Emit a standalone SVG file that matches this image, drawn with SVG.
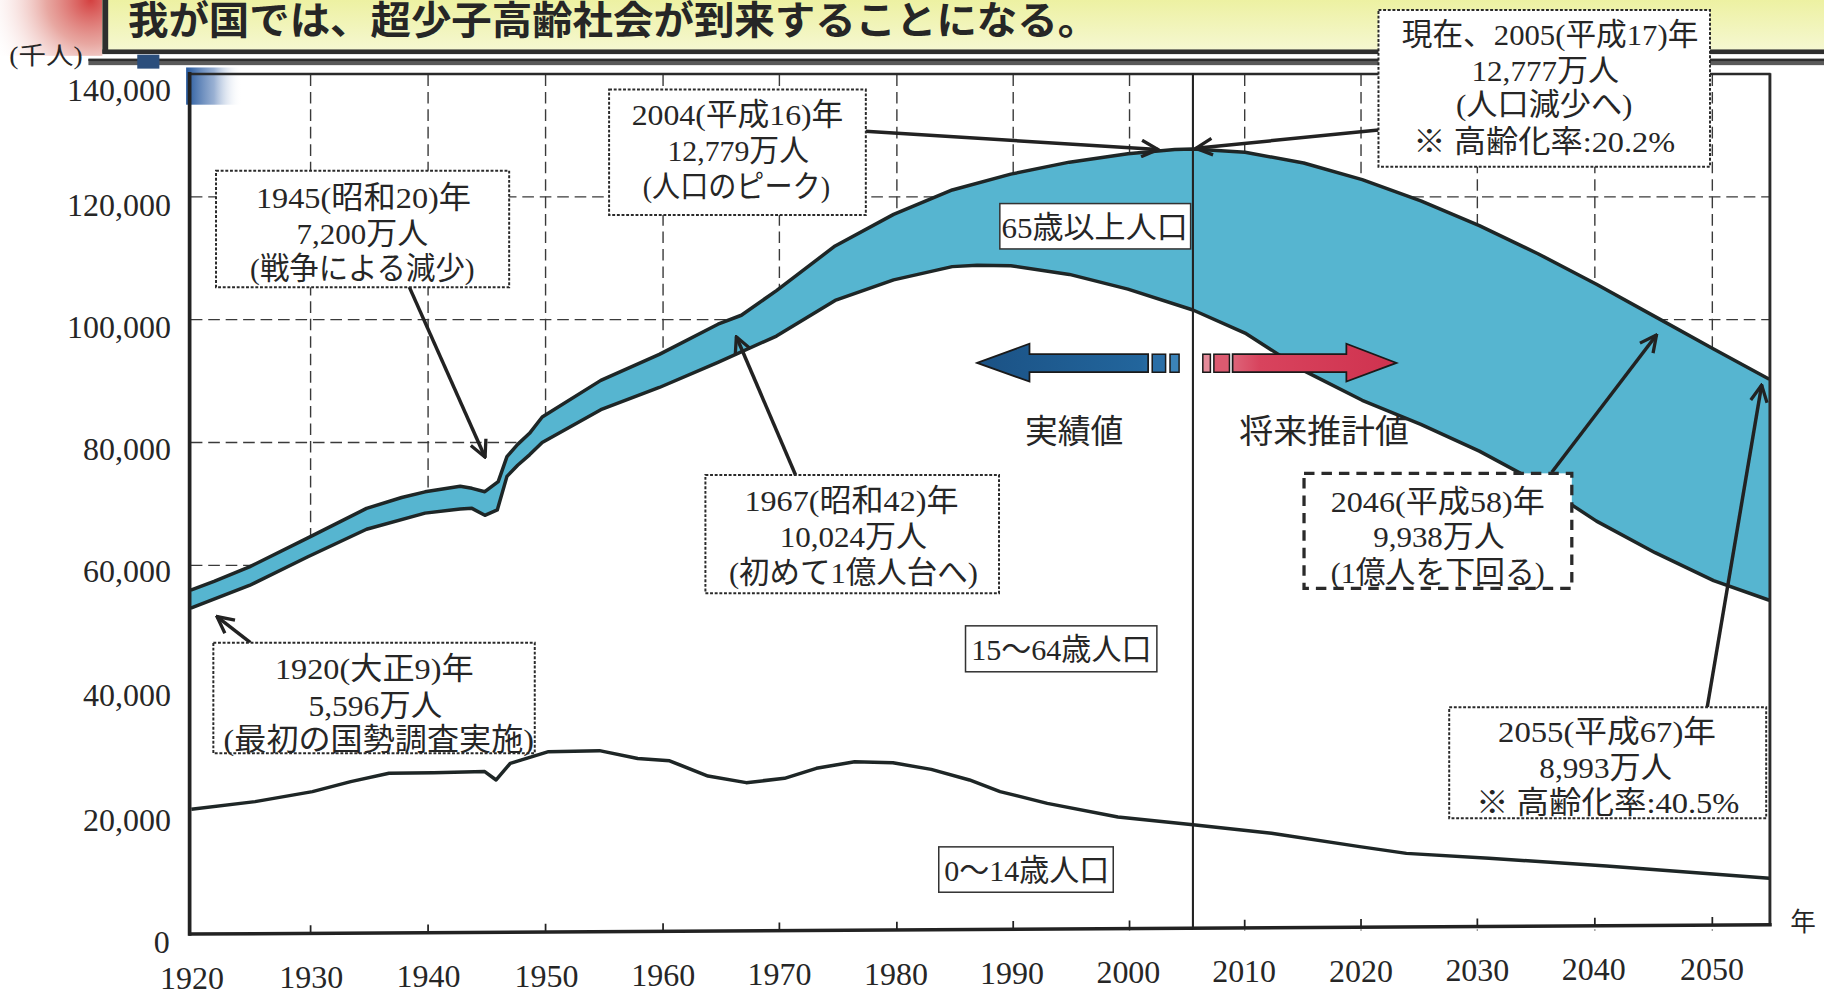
<svg xmlns="http://www.w3.org/2000/svg" width="1824" height="994" viewBox="0 0 1824 994">
<defs>
<linearGradient id="yel" x1="0" y1="0" x2="0" y2="1"><stop offset="0" stop-color="#edf1a2"/><stop offset="1" stop-color="#f6f8d4"/></linearGradient>
<radialGradient id="redblob" cx="78" cy="0" r="95" gradientUnits="userSpaceOnUse"><stop offset="0" stop-color="#d44040"/><stop offset="0.4" stop-color="#e08a82" stop-opacity="0.75"/><stop offset="1" stop-color="#ffffff" stop-opacity="0"/></radialGradient>
<linearGradient id="blueblob" x1="0" y1="0" x2="1" y2="0"><stop offset="0" stop-color="#24579c"/><stop offset="0.5" stop-color="#6e8fc0" stop-opacity="0.7"/><stop offset="1" stop-color="#ffffff" stop-opacity="0"/></linearGradient>
<linearGradient id="redArr" gradientUnits="userSpaceOnUse" x1="1033" y1="0" x2="1200" y2="0"><stop offset="0" stop-color="#e48a99"/><stop offset="0.3" stop-color="#d8435d"/><stop offset="1" stop-color="#cf324f"/></linearGradient>
<linearGradient id="blueArr" gradientUnits="userSpaceOnUse" x1="840" y1="0" x2="1014" y2="0"><stop offset="0" stop-color="#1b5285"/><stop offset="0.8" stop-color="#22659c"/><stop offset="1" stop-color="#3b83b9"/></linearGradient>
<marker id="ah" viewBox="0 0 12 12" refX="11" refY="6" markerWidth="17" markerHeight="17" markerUnits="userSpaceOnUse" orient="auto"><path d="M1,1 L11,6 L1,11" fill="none" stroke="#222" stroke-width="2"/></marker>
<style>
.grid{stroke:#3a3a3a;stroke-width:1.2;stroke-dasharray:10 5;fill:none}
.box{fill:#fff;stroke:#2a2a2a;stroke-width:1.7;stroke-dasharray:2.5 1.5}
.boxb{fill:#fff;stroke:#2a2a2a;stroke-width:2.8;stroke-dasharray:9 6}
.lbl{fill:#fff;stroke:#333;stroke-width:1.3}
.t{font-family:"Liberation Serif","Noto Sans CJK JP",serif;font-size:26px;fill:#262626;text-anchor:middle}
.ax{font-family:"Liberation Serif",serif;font-size:27.5px;fill:#262626}
.conn{stroke:#222;stroke-width:3;fill:none;marker-end:url(#ah)}
.curve{fill:none;stroke:#1e2626;stroke-width:3;stroke-linejoin:round}
.tick{stroke:#222;stroke-width:1.5}
</style>
</defs>
<rect width="1824" height="994" fill="#ffffff"/>
<g transform="scale(1.16327)">
<g id="header">
<rect x="0" y="0" width="88" height="48" fill="url(#redblob)"/>
<rect x="88" y="0" width="1490" height="46" fill="url(#yel)"/>
<rect x="88" y="42.5" width="1490" height="4" fill="#2e2e2e"/>
<rect x="88" y="0" width="5" height="46" fill="#2e2e2e"/>
<rect x="76" y="50.5" width="1500" height="5.5" fill="#5a5a5a"/>
<rect x="76" y="50.5" width="1500" height="2" fill="#2e2e2e"/>
<rect x="118" y="47" width="19" height="12" fill="#2b4e7c"/>
<rect x="160" y="58" width="48" height="32" fill="url(#blueblob)"/>
<text x="110" y="29.5" font-family="'Noto Sans CJK JP',sans-serif" font-size="33" font-weight="bold" fill="#262626" textLength="834" lengthAdjust="spacingAndGlyphs">我が国では、超少子高齢社会が到来することになる。</text>
</g>
<g id="grid">
<path class="grid" d="M267,64V800 M368,64V800 M469,64V800 M570,64V800 M670,64V800 M771,64V800 M871,64V800 M971,64V800 M1070,64V800 M1170,64V800 M1270,64V800 M1371,64V800 M1472,64V800"/>
<path class="grid" d="M164,169.2H1521 M164,274.8H1521 M164,380.4H1521 M164,486H1521 M164,591.6H1521 M164,697.2H1521"/>
</g>
<g id="areas">
<polygon id="band65" fill="#56b5d0" points="164,507.2 184,499.7 214.4,487.3 264.7,462.4 315.1,437 345.3,427.7 365.4,422.8 395.6,418 405.7,419.8 416.8,422.7 428.3,414 435.8,392.6 445,382 455.2,372.5 466.1,358.5 516.5,327 566.8,304.6 617.2,278.7 637.3,271 667.5,249.8 717.9,211.4 768.2,184.3 818.6,163.3 868.9,149.7 919.3,139.4 969.6,132.2 1009.9,128.5 1025.5,128 1070.3,130.9 1120.7,140.1 1171,154.4 1221.4,172.7 1271.7,194 1322.1,218.1 1372.4,244.4 1422.8,272.2 1473.1,300.1 1521,326 1521,516 1473.1,499.1 1422.8,475.1 1372.4,448 1322.1,414.9 1271.7,387.8 1221.4,364.8 1171,344.1 1120.7,318.6 1070.3,286.3 1025.5,266.5 969.6,248.5 919.3,235.9 868.9,228.4 840,228 818.6,229.2 768.2,240.6 717.9,258.3 667.5,288.9 617.2,311.6 566.8,333.1 516.5,352.2 466.1,380.4 455.2,391 445,400 435.8,409.5 427.5,438.4 416.8,443 405.7,437 395.6,437.5 365.4,441.1 315.1,455 264.7,478.6 214.4,503.3 164,522.8"/>
<polygon id="below" fill="#ffffff" points="164,522.8 214.4,503.3 264.7,478.6 315.1,455 365.4,441.1 395.6,437.5 405.7,437 416.8,443 427.5,438.4 435.8,409.5 445,400 455.2,391 466.1,380.4 516.5,352.2 566.8,333.1 617.2,311.6 667.5,288.9 717.9,258.3 768.2,240.6 818.6,229.2 840,228 868.9,228.4 919.3,235.9 969.6,248.5 1025.5,266.5 1070.3,286.3 1120.7,318.6 1171,344.1 1221.4,364.8 1271.7,387.8 1322.1,414.9 1372.4,448 1422.8,475.1 1473.1,499.1 1521,516 1521,796 164,804"/>
</g>
<g id="curves">
<polyline class="curve" points="164,507.2 184,499.7 214.4,487.3 264.7,462.4 315.1,437 345.3,427.7 365.4,422.8 395.6,418 405.7,419.8 416.8,422.7 428.3,414 435.8,392.6 445,382 455.2,372.5 466.1,358.5 516.5,327 566.8,304.6 617.2,278.7 637.3,271 667.5,249.8 717.9,211.4 768.2,184.3 818.6,163.3 868.9,149.7 919.3,139.4 969.6,132.2 1009.9,128.5 1025.5,128 1070.3,130.9 1120.7,140.1 1171,154.4 1221.4,172.7 1271.7,194 1322.1,218.1 1372.4,244.4 1422.8,272.2 1473.1,300.1 1521,326"/>
<polyline class="curve" points="164,522.8 214.4,503.3 264.7,478.6 315.1,455 365.4,441.1 395.6,437.5 405.7,437 416.8,443 427.5,438.4 435.8,409.5 445,400 455.2,391 466.1,380.4 516.5,352.2 566.8,333.1 617.2,311.6 667.5,288.9 717.9,258.3 768.2,240.6 818.6,229.2 840,228 868.9,228.4 919.3,235.9 969.6,248.5 1025.5,266.5 1070.3,286.3 1120.7,318.6 1171,344.1 1221.4,364.8 1271.7,387.8 1322.1,414.9 1372.4,448 1422.8,475.1 1473.1,499.1 1521,516"/>
<polyline class="curve" stroke-width="3.4" points="164.5,695.7 219.3,689.1 268.6,680.5 301.5,671.9 334.4,664.7 372.8,664.2 416.7,663.3 426.5,670.5 438.6,656.2 471.5,646.2 515.3,645.3 548.2,652 575.6,654 608.6,667.1 641.5,672.8 674.4,669.1 701.8,660.5 734.7,654.8 767.6,655.7 800.5,661.4 833.4,670.5 859.7,680.5 900.3,690.6 961,702.3 1025.6,708.9 1093,716.3 1168.8,727.8 1209,733.6 1280,737.8 1381,744.5 1521,755"/>
</g>
<g id="axes">
<line x1="163" y1="63.6" x2="1522" y2="63.6" stroke="#2a2a2a" stroke-width="2"/>
<line x1="163" y1="62" x2="163" y2="804.5" stroke="#222" stroke-width="3.2"/>
<line x1="1521.5" y1="63" x2="1521.5" y2="796" stroke="#2a2a2a" stroke-width="2.5"/>
<line x1="162" y1="803" x2="1523" y2="795" stroke="#222" stroke-width="3"/>
<line x1="1025.5" y1="63" x2="1025.5" y2="798" stroke="#222" stroke-width="1.8"/>
<path class="tick" d="M267,802.4v-7 M368,801.8v-7 M469,801.2v-7 M570,800.6v-7 M670,800v-7 M771,799.4v-7 M871,798.8v-7 M971,798.2v-7 M1070,797.7v-7 M1170,797.1v-7 M1270,796.5v-7 M1371,795.9v-7 M1472,795.3v-7"/>
<text x="8" y="55" font-family="'Liberation Serif','Noto Sans CJK JP',serif" font-size="21" fill="#262626" textLength="63" lengthAdjust="spacingAndGlyphs">(千人)</text>
<g class="ax" text-anchor="end">
<text x="147" y="86.5">140,000</text>
<text x="147" y="185.5">120,000</text>
<text x="147" y="290.5">100,000</text>
<text x="147" y="395.5">80,000</text>
<text x="147" y="500.5">60,000</text>
<text x="147" y="606.5">40,000</text>
<text x="147" y="714.5">20,000</text>
<text x="146" y="819">0</text>
</g>
<g class="ax" text-anchor="middle">
<text x="165" y="850">1920</text>
<text x="267.5" y="849.4">1930</text>
<text x="368.4" y="848.8">1940</text>
<text x="469.8" y="848.2">1950</text>
<text x="570.2" y="847.6">1960</text>
<text x="670" y="847">1970</text>
<text x="770.3" y="846.4">1980</text>
<text x="870" y="845.8">1990</text>
<text x="970" y="845.2">2000</text>
<text x="1069.5" y="844.6">2010</text>
<text x="1170" y="844">2020</text>
<text x="1270" y="843.4">2030</text>
<text x="1370" y="842.8">2040</text>
<text x="1471.7" y="842.2">2050</text>
</g>
<text x="1550" y="800" font-family="'Noto Sans CJK JP',sans-serif" font-size="22" fill="#262626" text-anchor="middle">年</text>
</g>
<g id="arrows-period">
<path d="M840,312 L885,295.5 L885,304.5 L987,304.5 L987,320 L885,320 L885,328 Z" fill="url(#blueArr)" stroke="#1a1a1a" stroke-width="1.5" stroke-linejoin="miter"/>
<rect x="990.5" y="304.5" width="11.5" height="15.5" fill="#2a6ea6" stroke="#1a1a1a" stroke-width="1.3"/>
<rect x="1005.8" y="304.5" width="7.8" height="15.5" fill="#3b83b9" stroke="#1a1a1a" stroke-width="1.3"/>
<rect x="1034" y="304.5" width="6.5" height="15.5" fill="#e48a99" stroke="#1a1a1a" stroke-width="1.3"/>
<rect x="1043.5" y="304.5" width="13.4" height="15.5" fill="#dc5a70" stroke="#1a1a1a" stroke-width="1.3"/>
<path d="M1059.6,304.5 L1157.4,304.5 L1157.4,295.5 L1200.5,312 L1157.4,328 L1157.4,320 L1059.6,320 Z" fill="url(#redArr)" stroke="#1a1a1a" stroke-width="1.5" stroke-linejoin="miter"/>
<text x="923.3" y="381" font-family="'Noto Sans CJK JP',sans-serif" font-size="28" fill="#262626" text-anchor="middle" textLength="84.5" lengthAdjust="spacingAndGlyphs">実績値</text>
<text x="1138.3" y="381" font-family="'Noto Sans CJK JP',sans-serif" font-size="28" fill="#262626" text-anchor="middle" textLength="146" lengthAdjust="spacingAndGlyphs">将来推計値</text>
</g>
<g id="connectors">
<line class="conn" x1="351.7" y1="246.4" x2="417" y2="393"/>
<line class="conn" x1="740.4" y1="112.6" x2="995.5" y2="128.5"/>
<line class="conn" x1="1185" y1="111.7" x2="1028" y2="127.5"/>
<line class="conn" x1="683.9" y1="408.3" x2="633" y2="289.5"/>
<line class="conn" x1="215.3" y1="552.5" x2="186.5" y2="530"/>
<line class="conn" x1="1334" y1="406" x2="1424" y2="288"/>
<line class="conn" x1="1467.6" y1="608" x2="1514.4" y2="331"/>
</g>
<g id="lbl65">
<rect class="lbl" x="859.5" y="175" width="164" height="39"/>
<text class="t" x="941" y="204.5" font-size="25" textLength="160" lengthAdjust="spacingAndGlyphs">65歳以上人口</text>
</g>
<g id="lbl15">
<rect class="lbl" x="830" y="538" width="164.5" height="39.5"/>
<text class="t" x="912.4" y="567" font-size="25" textLength="155" lengthAdjust="spacingAndGlyphs">15〜64歳人口</text>
</g>
<g id="lbl0">
<rect class="lbl" x="807" y="728" width="150" height="39"/>
<text class="t" x="882.6" y="757" font-size="25" textLength="141.8" lengthAdjust="spacingAndGlyphs">0〜14歳人口</text>
</g>
<g id="n1945">
<rect class="box" x="185.7" y="146.7" width="252" height="100.3"/>
<text class="t" x="312.5" y="178.5" textLength="185" lengthAdjust="spacingAndGlyphs">1945(昭和20)年</text>
<text class="t" x="311.5" y="210" textLength="113" lengthAdjust="spacingAndGlyphs">7,200万人</text>
<text class="t" x="311.5" y="240" textLength="193" lengthAdjust="spacingAndGlyphs">(戦争による減少)</text>
</g>
<g id="n2004">
<rect class="box" x="523.6" y="77" width="220.7" height="107.8"/>
<text class="t" x="634" y="107.5" textLength="182" lengthAdjust="spacingAndGlyphs">2004(平成16)年</text>
<text class="t" x="634.6" y="138.5" textLength="121.6" lengthAdjust="spacingAndGlyphs">12,779万人</text>
<text class="t" x="633" y="169" textLength="161" lengthAdjust="spacingAndGlyphs">(人口のピーク)</text>
</g>
<g id="n2005">
<rect class="box" x="1185" y="8.6" width="285" height="134.7"/>
<text class="t" x="1332.5" y="38.5" textLength="255" lengthAdjust="spacingAndGlyphs">現在、2005(平成17)年</text>
<text class="t" x="1328.4" y="69.5" textLength="126.7" lengthAdjust="spacingAndGlyphs">12,777万人</text>
<text class="t" x="1327.5" y="99" textLength="151.7" lengthAdjust="spacingAndGlyphs">(人口減少へ)</text>
<text class="t" x="1327.5" y="131" textLength="225" lengthAdjust="spacingAndGlyphs">※ 高齢化率:20.2%</text>
</g>
<g id="n1967">
<rect class="box" x="606.4" y="408.3" width="252.4" height="101.7"/>
<text class="t" x="732" y="439.5" textLength="184" lengthAdjust="spacingAndGlyphs">1967(昭和42)年</text>
<text class="t" x="733.6" y="470.5" textLength="126.6" lengthAdjust="spacingAndGlyphs">10,024万人</text>
<text class="t" x="733.6" y="501.5" textLength="214" lengthAdjust="spacingAndGlyphs">(初めて1億人台へ)</text>
</g>
<g id="n1920">
<rect class="box" x="183.4" y="552.5" width="276.3" height="95.1"/>
<text class="t" x="321.8" y="583.5" textLength="170.8" lengthAdjust="spacingAndGlyphs">1920(大正9)年</text>
<text class="t" x="322.7" y="615.5" textLength="115" lengthAdjust="spacingAndGlyphs">5,596万人</text>
<text class="t" x="325.6" y="644.5" textLength="266.8" lengthAdjust="spacingAndGlyphs">(最初の国勢調査実施)</text>
</g>
<g id="n2046">
<rect class="boxb" x="1121" y="406.9" width="230.2" height="98.8"/>
<text class="t" x="1236" y="440" textLength="184" lengthAdjust="spacingAndGlyphs">2046(平成58)年</text>
<text class="t" x="1237" y="470.5" textLength="113" lengthAdjust="spacingAndGlyphs">9,938万人</text>
<text class="t" x="1236" y="501" textLength="184" lengthAdjust="spacingAndGlyphs">(1億人を下回る)</text>
</g>
<g id="n2055">
<rect class="box" x="1245.8" y="608" width="272.5" height="95.5"/>
<text class="t" x="1381.5" y="637.5" textLength="187.4" lengthAdjust="spacingAndGlyphs">2055(平成67)年</text>
<text class="t" x="1380.3" y="668.5" textLength="114" lengthAdjust="spacingAndGlyphs">8,993万人</text>
<text class="t" x="1382" y="699" textLength="226.5" lengthAdjust="spacingAndGlyphs">※ 高齢化率:40.5%</text>
</g>
</g>
</svg>
